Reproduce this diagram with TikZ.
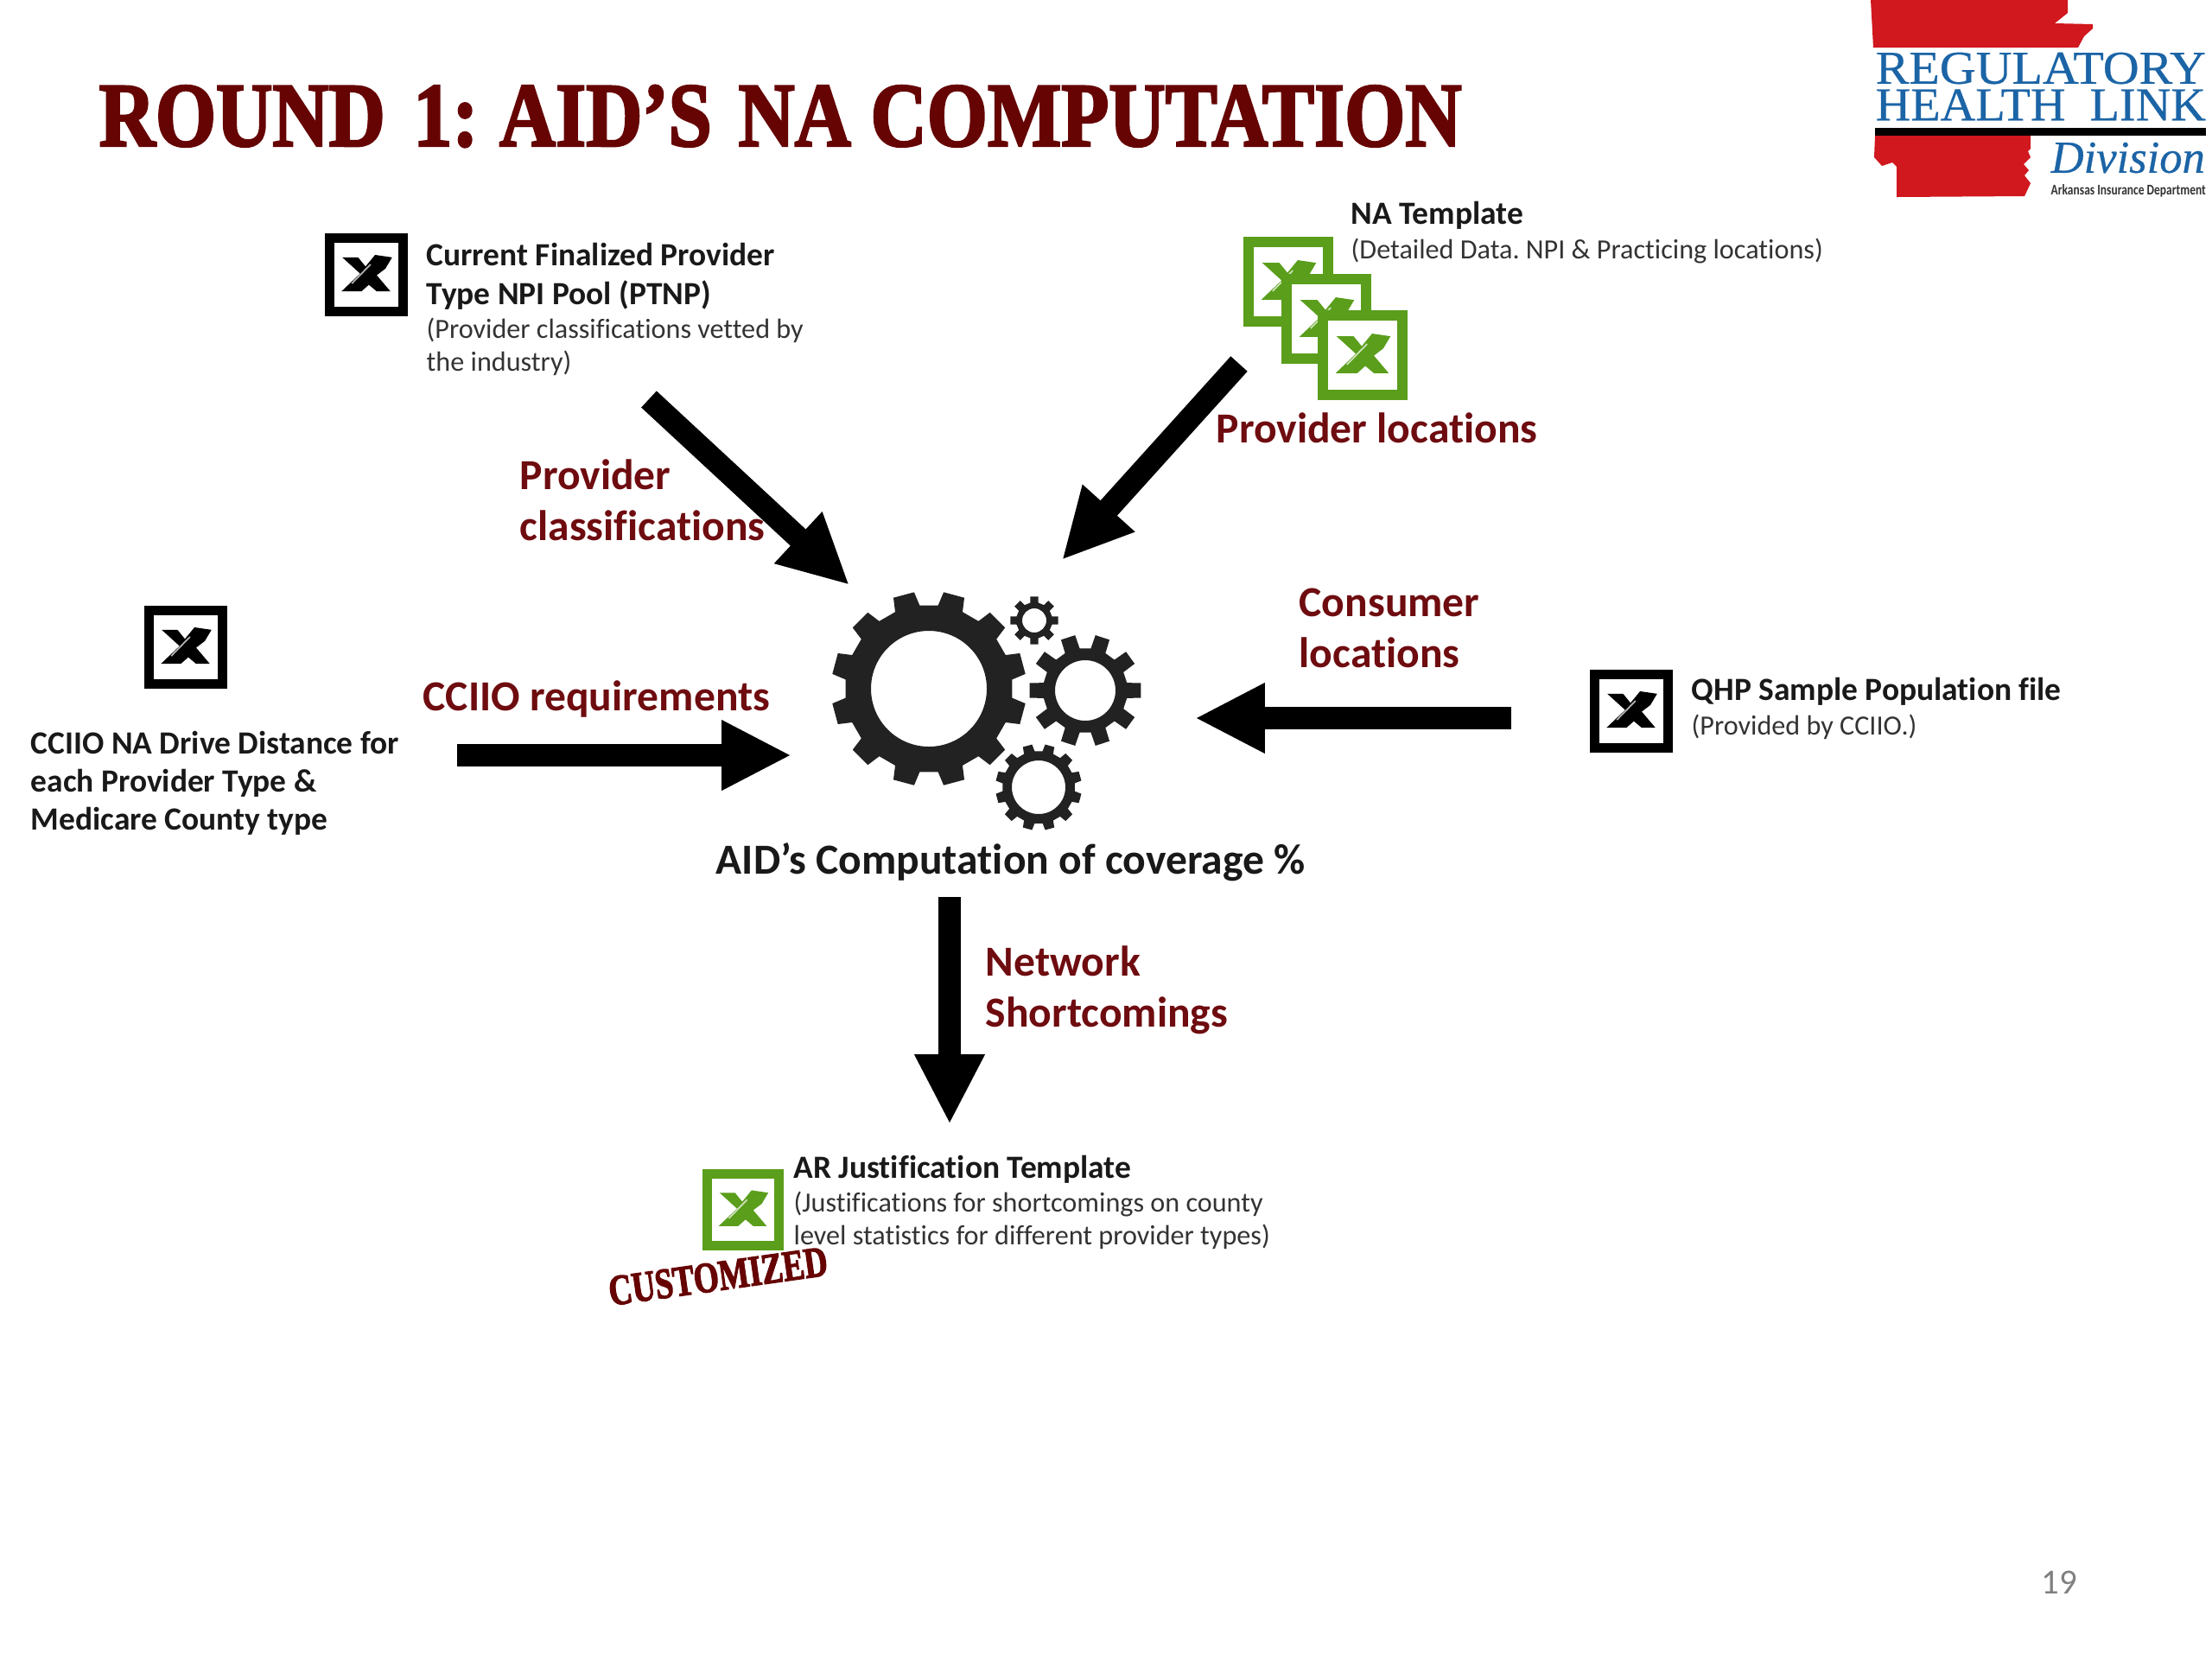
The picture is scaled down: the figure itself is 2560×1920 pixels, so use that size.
\documentclass[tikz,border=0pt]{standalone}
\usepackage{fontspec}
\usepackage{graphicx}
\usetikzlibrary{arrows.meta,calc}
\setmainfont{Carlito}[Ligatures=NoCommon]
\newfontfamily\serifface[FakeBold=0.5]{Liberation Serif}
\newfontfamily\stampface[FakeBold=2.6]{Liberation Serif Bold}
\definecolor{titlered}{HTML}{660404}
\definecolor{labelred}{HTML}{6E0C10}
\definecolor{xlgreen}{HTML}{5A9E1B}
\definecolor{gearblack}{HTML}{222222}
\definecolor{logored}{HTML}{D0181E}
\definecolor{logoblue}{HTML}{1B64A6}
\tikzset{
	headtxt/.style={anchor=north west,align=left,inner sep=0pt,text=black!90,font=\bfseries\frenchspacing\fontsize{10.65}{12.6}\selectfont},
	subtxt/.style={anchor=north west,align=left,inner sep=0pt,text=black!80,font=\frenchspacing\fontsize{9.15}{11}\selectfont},
	flowtxt/.style={anchor=north west,align=left,inner sep=0pt,text=labelred,font=\bfseries\fontsize{14.1}{16.9}\selectfont},
	blockarrow/.style={line width=7.4pt,-{Triangle[length=23pt,width=21.5pt]},black},
	pics/xlicon/.style 2 args={code={
		\fill[#1] (-#2,-#2) rectangle (#2,#2);
		\fill[white] (-0.77*#2,-0.77*#2) rectangle (0.77*#2,0.77*#2);
		\begin{scope}[scale=#2]
			\fill[#1] (-.6,.4) -- (-.12,.4) -- (.06,.24) -- (.25,.4) -- (.58,.4) -- (.25,.01) -- (.46,-.15) -- (.62,-.42) -- (.21,-.48) -- (-.02,-.2) -- (-.2,-.42) -- (-.58,-.42) -- (-.15,-.03) -- cycle;
			\draw[white!70!#1,line width=.5pt] (-.35,.21) -- (.1,-.25);
		\end{scope}
	}},
}
% x y teeth outer root hole rotation
\newcommand{\gearwheel}[7]{
	\fill[gearblack,even odd rule] ($(#1,#2)+(#7+0.29*360/#3:#5)$)
	\foreach \k in {1,...,#3} {
		-- ($(#1,#2)+(#7+\k*360/#3-0.29*360/#3:#5)$) -- ($(#1,#2)+(#7+\k*360/#3-0.21*360/#3:#4)$) -- ($(#1,#2)+(#7+\k*360/#3+0.21*360/#3:#4)$) -- ($(#1,#2)+(#7+\k*360/#3+0.29*360/#3:#5)$)
	} -- cycle (#1,#2) circle (#6);
}
\begin{document}
\begin{tikzpicture}[x=0.01cm,y=-0.01cm]
	\useasboundingbox (0,0) rectangle (2560,1920);
	% title
	\node[anchor=south west,inner sep=0pt,text=titlered] (title) at (114,171) {\resizebox{15.76cm}{0.7cm}{\stampface ROUND\hspace{.36em}1:\hspace{.27em}AID’S\hspace{.34em}NA COMPUTATION}};
	% logo
	\fill[logored] (2165,0) -- (2393,0) -- (2393,15) -- (2378,27) -- (2422,28) -- (2422,33) -- (2412,42) -- (2405,55) -- (2168,55) -- cycle;
	\fill[logored] (2170,157) -- (2350,157) -- (2350,172) -- (2347,175) -- (2350,182) -- (2342,190) -- (2348,197) -- (2343,203) -- (2350,212) -- (2343,227) -- (2195,228) -- (2195,193) -- (2190,188) -- (2178,192) -- (2169,182) -- cycle;
	\fill[black] (2170,148) rectangle (2553,157);
	\node[anchor=south west,inner sep=0pt,text=logoblue] (logoa) at (2170,98) {\resizebox{3.82cm}{0.36cm}{\serifface REGULATORY}};
	\node[anchor=south west,inner sep=0pt,text=logoblue] (logob) at (2170,140) {\resizebox{3.82cm}{0.36cm}{\serifface HEALTH\ \ LINK}};
	\node[anchor=south west,inner sep=0pt,text=logoblue] (logoc) at (2373,201) {\resizebox{1.78cm}{0.35cm}{\serifface\itshape Division}};
	\node[anchor=south west,inner sep=0pt,text=black!80] (logod) at (2373,229) {\resizebox{1.79cm}{0.12cm}{\bfseries Arkansas Insurance Department}};
	% icons
	\pic (ptnpicon) at (424,318) {xlicon={black}{48}};
	\pic (driveicon) at (215,749) {xlicon={black}{48}};
	\pic (qhpicon) at (1888,823) {xlicon={black}{48}};
	\pic (naicona) at (1491,326) {xlicon={xlgreen}{52}};
	\pic (naiconb) at (1535,369) {xlicon={xlgreen}{52}};
	\pic (naiconc) at (1577,411) {xlicon={xlgreen}{52}};
	\pic (aricon) at (860,1400) {xlicon={xlgreen}{47}};
	% gears
	\gearwheel{1075}{797}{12}{113}{97}{67}{15}
	\gearwheel{1256}{799}{10}{65}{49}{35}{0}
	\gearwheel{1197}{718}{8}{28}{21}{14}{0}
	\gearwheel{1202}{911}{12}{50}{42}{31}{15}
	% arrows
	\coordinate (ca) at (751,462); \coordinate (cb) at (983,677);
	\coordinate (la) at (1434,421); \coordinate (lb) at (1229,648);
	\coordinate (ra) at (529,874); \coordinate (rb) at (916,874);
	\coordinate (pa) at (1749,831); \coordinate (pb) at (1383,831);
	\coordinate (na) at (1099,1038); \coordinate (nb) at (1099,1301);
	\draw[blockarrow] (ca) -- (cb);
	\draw[blockarrow] (la) -- (lb);
	\draw[blockarrow] (ra) -- (rb);
	\draw[blockarrow] (pa) -- (pb);
	\draw[blockarrow] (na) -- (nb);
	% texts
	\node[headtxt] (ptnp) at (493,281) {Current Finalized Provider\\Type NPI Pool (PTNP)};
	\node[subtxt] (ptnpsub) at (493,367) {(Provider classifications vetted by\\the industry)};
	\node[headtxt] (natemp) at (1563,233) {NA Template};
	\node[subtxt] (natempsub) at (1563,275) {(Detailed Data. NPI \& Practicing locations)};
	\node[headtxt] (drive) at (35,845) {CCIIO NA Drive Distance for\\each Provider Type \&\\Medicare County type};
	\node[headtxt] (qhp) at (1957,783) {QHP Sample Population file};
	\node[subtxt] (qhpsub) at (1957,826) {(Provided by CCIIO.)};
	\node[headtxt,font=\bfseries\frenchspacing\fontsize{14.1}{15}\selectfont] (comp) at (828,975) {AID’s Computation of coverage \%};
	\node[headtxt] (ar) at (918,1336) {AR Justification Template};
	\node[subtxt] (arsub) at (918,1378) {(Justifications for shortcomings on county\\level statistics for different provider types)};
	\node[flowtxt] (lblclass) at (601,531) {Provider\\classifications};
	\node[flowtxt] (lblloc) at (1407,477) {Provider locations};
	\node[flowtxt] (lblcons) at (1503,680) {Consumer\\locations};
	\node[flowtxt] (lblcciio) at (489,787) {CCIIO requirements};
	\node[flowtxt] (lblnet) at (1140,1094) {Network\\Shortcomings};
	\node[anchor=center,inner sep=0pt,text=titlered,rotate=8] (custom) at (831,1477) {\resizebox{2.55cm}{0.33cm}{\stampface CUSTOMIZED}};
	\node[anchor=base west,inner sep=0pt,text=black!50,font=\fontsize{11.6}{13}\selectfont] (pagenum) at (2362,1844) {19};
\end{tikzpicture}
\end{document}
